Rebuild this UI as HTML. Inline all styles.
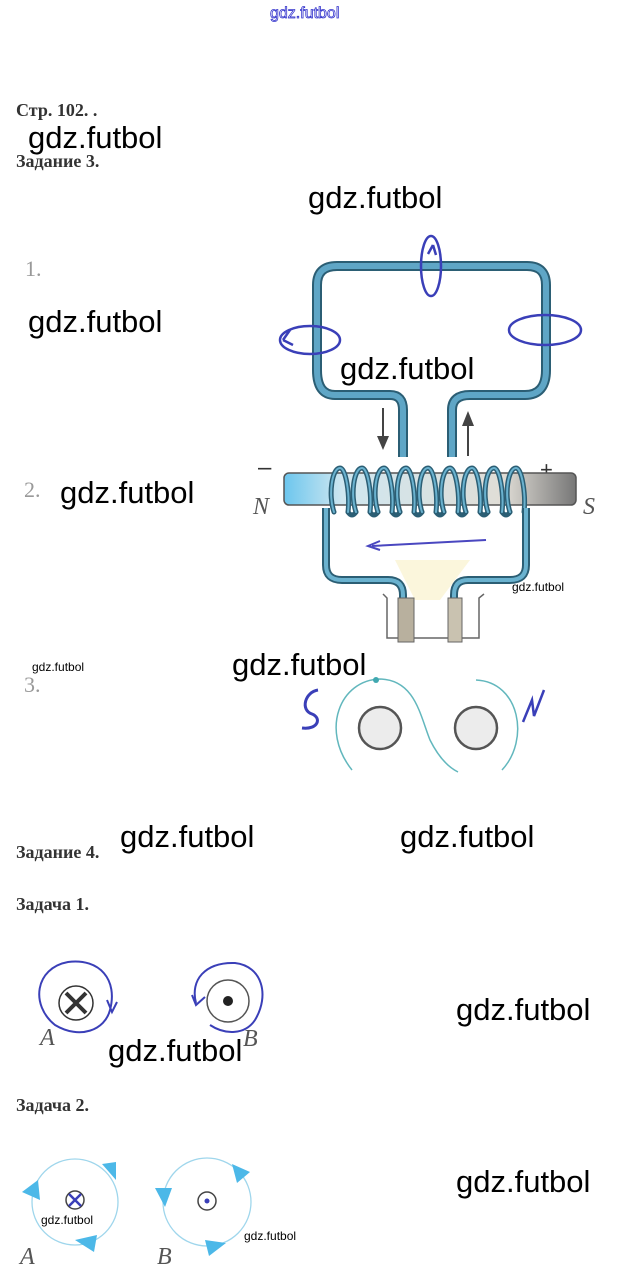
<!DOCTYPE html>
<html><head><meta charset="utf-8"><style>
html,body{margin:0;padding:0;background:#fff;}
svg{display:block;}
.wm{font-family:"Liberation Sans",sans-serif;font-size:31px;fill:#000;}
.ws{font-family:"Liberation Sans",sans-serif;font-size:12px;fill:#000;}
.h{font-family:"Liberation Serif",serif;font-weight:bold;font-size:18px;fill:#333;}
.n{font-family:"Liberation Serif",serif;font-size:22px;fill:#999;}
.it{font-family:"Liberation Serif",serif;font-style:italic;font-size:24px;fill:#555;}
</style></head><body>
<svg width="621" height="1285" viewBox="0 0 621 1285" xmlns="http://www.w3.org/2000/svg">
<defs>
<linearGradient id="bar" x1="0" x2="1" y1="0" y2="0">
<stop offset="0" stop-color="#6cc6ee"/><stop offset="0.2" stop-color="#cfe7f0"/><stop offset="0.75" stop-color="#e0ddd6"/><stop offset="1" stop-color="#777"/>
</linearGradient>
</defs>
<text x="270" y="18" font-family="Liberation Sans,sans-serif" font-size="16" fill="#fff" stroke="#33c" stroke-width="0.8">gdz.futbol</text>
<text class="h" x="16" y="116">Стр. 102. .</text>
<text class="h" x="16" y="167">Задание 3.</text>
<text class="wm" x="28" y="148">gdz.futbol</text>
<text class="wm" x="308" y="208">gdz.futbol</text>
<text class="n" x="25" y="276">1.</text>
<text class="wm" x="28" y="332">gdz.futbol</text>
<text class="n" x="24" y="497">2.</text>
<text class="wm" x="60" y="503">gdz.futbol</text>
<text class="n" x="24" y="692">3.</text>
<text class="ws" x="32" y="671">gdz.futbol</text>

<path d="M403,457 L403,410 Q403,395 390,395 L335,395 Q317,395 317,370 L317,285 Q317,266 337,266 L527,266 Q546,266 546,285 L546,370 Q546,395 525,395 L470,395 Q452,395 452,410 L452,457" fill="none" stroke="#2b5e74" stroke-width="10"/>
<path d="M403,457 L403,410 Q403,395 390,395 L335,395 Q317,395 317,370 L317,285 Q317,266 337,266 L527,266 Q546,266 546,285 L546,370 Q546,395 525,395 L470,395 Q452,395 452,410 L452,457" fill="none" stroke="#5fa6c6" stroke-width="6"/>
<g fill="none" stroke="#3a3fb8" stroke-width="2.5">
<ellipse cx="431" cy="266" rx="10" ry="30"/>
<ellipse cx="310" cy="340" rx="30" ry="14"/>
<ellipse cx="545" cy="330" rx="36" ry="15"/>
<path d="M283,340 L290,330 M283,340 L293,345"/>
<path d="M433,245 L436,255 M433,245 L428,254"/>
</g>
<text class="wm" x="340" y="379">gdz.futbol</text>
<line x1="383" y1="408" x2="383" y2="440" stroke="#444" stroke-width="2"/>
<polygon points="377,436 389,436 383,450" fill="#444"/>
<line x1="468" y1="456" x2="468" y2="422" stroke="#444" stroke-width="2"/>
<polygon points="462,426 474,426 468,411" fill="#444"/>
<text x="258" y="475" font-size="24" fill="#333" font-family="Liberation Sans,sans-serif">–</text>
<text x="540" y="477" font-size="22" fill="#333" font-family="Liberation Sans,sans-serif">+</text>
<text class="it" x="253" y="514">N</text>
<text class="it" x="583" y="514">S</text>
<rect x="284" y="473" width="292" height="32" rx="5" fill="url(#bar)" stroke="#555" stroke-width="1.5"/>
<!-- coil: front strands -->
<g fill="none" stroke="#2b5e74" stroke-width="5" stroke-linecap="round">
<path d="M334,512 C328,495 332,468 340,468 C346,468 350,495 348,512"/>
<path d="M356,512 C350,495 354,468 362,468 C368,468 372,495 370,512"/>
<path d="M378,512 C372,495 376,468 384,468 C390,468 394,495 392,512"/>
<path d="M400,512 C394,495 398,468 406,468 C412,468 416,495 414,512"/>
<path d="M422,512 C416,495 420,468 428,468 C434,468 438,495 436,512"/>
<path d="M444,512 C438,495 442,468 450,468 C456,468 460,495 458,512"/>
<path d="M466,512 C460,495 464,468 472,468 C478,468 482,495 480,512"/>
<path d="M488,512 C482,495 486,468 494,468 C500,468 504,495 502,512"/>
<path d="M510,512 C504,495 508,468 516,468 C522,468 526,495 524,512"/>
<path d="M348,512 Q352,518 356,512 M370,512 Q374,518 378,512 M392,512 Q396,518 400,512 M414,512 Q418,518 422,512 M436,512 Q440,518 444,512 M458,512 Q462,518 466,512 M480,512 Q484,518 488,512 M502,512 Q506,518 510,512"/>
</g>
<g fill="none" stroke="#6ab2cf" stroke-width="2" stroke-linecap="round">
<path d="M334,512 C328,495 332,468 340,468 C346,468 350,495 348,512"/>
<path d="M356,512 C350,495 354,468 362,468 C368,468 372,495 370,512"/>
<path d="M378,512 C372,495 376,468 384,468 C390,468 394,495 392,512"/>
<path d="M400,512 C394,495 398,468 406,468 C412,468 416,495 414,512"/>
<path d="M422,512 C416,495 420,468 428,468 C434,468 438,495 436,512"/>
<path d="M444,512 C438,495 442,468 450,468 C456,468 460,495 458,512"/>
<path d="M466,512 C460,495 464,468 472,468 C478,468 482,495 480,512"/>
<path d="M488,512 C482,495 486,468 494,468 C500,468 504,495 502,512"/>
<path d="M510,512 C504,495 508,468 516,468 C522,468 526,495 524,512"/>
</g>
<path d="M326,508 L326,565 Q326,580 342,580 L388,580 Q403,580 403,595 L403,610 M526,508 L526,565 Q526,580 510,580 L468,580 Q454,580 454,595 L454,610" fill="none" stroke="#2b5e74" stroke-width="8"/>
<path d="M326,508 L326,565 Q326,580 342,580 L388,580 Q403,580 403,595 L403,610 M526,508 L526,565 Q526,580 510,580 L468,580 Q454,580 454,595 L454,610" fill="none" stroke="#6ab2cf" stroke-width="4"/>
<path d="M486,540 L372,546" stroke="#4a47c0" stroke-width="2" fill="none"/>
<path d="M380,541 L368,546 L380,550" stroke="#4a47c0" stroke-width="2" fill="none"/>
<polygon points="395,560 470,560 440,600 415,600" fill="#fbf6dc"/>
<path d="M383,594 L387,598 L387,638 L479,638 L479,598 L484,594" fill="none" stroke="#666" stroke-width="1.5"/>
<rect x="398" y="598" width="16" height="44" fill="#b8b09e" stroke="#666"/>
<rect x="448" y="598" width="14" height="44" fill="#c9c2b0" stroke="#666"/>
<text class="ws" x="512" y="591">gdz.futbol</text>
<text class="wm" x="232" y="675">gdz.futbol</text>
<path d="M352,770 C320,730 340,680 380,679 C415,680 420,715 430,740 C440,760 450,768 458,772" fill="none" stroke="#62b7bd" stroke-width="1.5"/>
<path d="M476,680 C520,682 530,740 502,770" fill="none" stroke="#62b7bd" stroke-width="1.5"/>
<circle cx="376" cy="680" r="3" fill="#40a8b0"/>
<circle cx="380" cy="728" r="21" fill="#ececec" stroke="#555" stroke-width="2.5"/>
<circle cx="476" cy="728" r="21" fill="#ececec" stroke="#555" stroke-width="2.5"/>
<path d="M318,690 C305,692 300,710 312,714 C322,718 318,730 302,728" fill="none" stroke="#3a3fb8" stroke-width="3"/>
<path d="M523,722 L532,700 L534,716 L544,690" fill="none" stroke="#3a3fb8" stroke-width="2.5"/>

<text class="h" x="16" y="858">Задание 4.</text>
<text class="wm" x="120" y="847">gdz.futbol</text>
<text class="wm" x="400" y="847">gdz.futbol</text>
<text class="h" x="16" y="910">Задача 1.</text>
<path d="M110,1010 C105,1030 80,1040 55,1025 C30,1005 35,968 68,962 C100,958 118,980 110,1010" fill="none" stroke="#3a3fb8" stroke-width="2"/>
<path d="M107,1000 L112,1012 L117,1002" fill="none" stroke="#3a3fb8" stroke-width="2"/>
<circle cx="76" cy="1003" r="17" fill="#fff" stroke="#333" stroke-width="1.5"/>
<path d="M66,993 L86,1013 M86,993 L66,1013" stroke="#333" stroke-width="4"/>
<circle cx="228" cy="1001" r="21" fill="none" stroke="#555" stroke-width="1.5"/>
<circle cx="228" cy="1001" r="5" fill="#222"/>
<path d="M196,1003 C190,980 205,962 235,963 C262,966 270,995 255,1020 C245,1035 225,1035 210,1025" fill="none" stroke="#3a3fb8" stroke-width="2"/>
<path d="M192,995 L196,1005 L205,997" fill="none" stroke="#3a3fb8" stroke-width="2"/>
<text class="it" x="40" y="1045" font-size="20" fill="#888">A</text>
<text class="it" x="243" y="1046" font-size="20" fill="#888">B</text>
<text class="wm" x="108" y="1061">gdz.futbol</text>
<text class="wm" x="456" y="1020">gdz.futbol</text>
<text class="h" x="16" y="1111">Задача 2.</text>
<circle cx="75" cy="1202" r="43" fill="none" stroke="#9fd6ec" stroke-width="1.3"/>
<polygon points="22,1192 38,1180 40,1200" fill="#4cb8e8"/>
<polygon points="102,1164 116,1162 116,1180" fill="#4cb8e8"/>
<polygon points="75,1240 97,1235 94,1252" fill="#4cb8e8"/>
<circle cx="75" cy="1200" r="9" fill="none" stroke="#444" stroke-width="1.5"/>
<path d="M69,1194 L81,1206 M81,1194 L69,1206" stroke="#3a3fb8" stroke-width="2.5"/>
<text class="ws" x="41" y="1224">gdz.futbol</text>
<circle cx="207" cy="1202" r="44" fill="none" stroke="#9fd6ec" stroke-width="1.3"/>
<polygon points="155,1188 172,1188 165,1207" fill="#4cb8e8"/>
<polygon points="232,1164 250,1172 237,1183" fill="#4cb8e8"/>
<polygon points="205,1240 226,1243 209,1256" fill="#4cb8e8"/>
<circle cx="207" cy="1201" r="9" fill="none" stroke="#444" stroke-width="1.5"/>
<circle cx="207" cy="1201" r="2.5" fill="#3a3fb8"/>
<text class="ws" x="244" y="1240">gdz.futbol</text>
<text class="it" x="20" y="1264" font-size="20" fill="#888">A</text>
<text class="it" x="157" y="1264" font-size="20" fill="#888">B</text>
<text class="wm" x="456" y="1192">gdz.futbol</text>
</svg>
</body></html>
